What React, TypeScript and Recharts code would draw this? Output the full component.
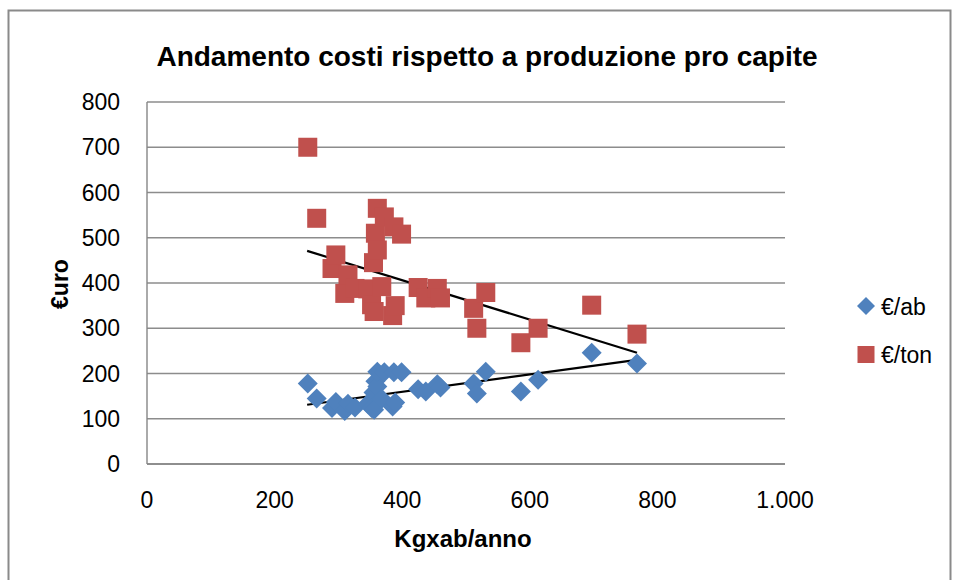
import React from 'react';
import { ScatterChart, Scatter, XAxis, YAxis, CartesianGrid, ReferenceLine } from 'recharts';

// Produzione pro capite (Kg per abitante per anno)
const kgPerInhabitant = [252, 266, 290, 296, 310, 315, 326, 346, 352, 355, 356, 358, 361, 361, 368, 372, 385, 387, 389, 399, 425, 437, 455, 460, 512, 517, 531, 586, 613, 697, 768];
// Costo per abitante (€/ab)
const eurPerInhabitant = [178, 145, 124, 137, 117, 133, 125, 133, 124, 158, 120, 183, 171, 204, 144, 203, 127, 203, 136, 203, 165, 160, 176, 169, 178, 156, 204, 160, 186, 246, 222];
// Costo per tonnellata (€/ton)
const eurPerTon = [700, 543, 432, 462, 377, 418, 388, 387, 352, 445, 337, 510, 473, 565, 392, 546, 328, 524, 350, 508, 390, 367, 388, 367, 344, 300, 379, 268, 300, 351, 287];

const xTicks = [0, 200, 400, 600, 800, 1000];
const yTicks = [0, 100, 200, 300, 400, 500, 600, 700, 800];

// Linee di tendenza (estremi)
const trendX = [251, 768];
const trendAb = [131, 230];
const trendTon = [471, 246];

const abData = kgPerInhabitant.map((x, i) => ({ x, y: eurPerInhabitant[i] }));
const tonData = kgPerInhabitant.map((x, i) => ({ x, y: eurPerTon[i] }));

const BLUE = '#4F81BD';
const RED = '#C0504D';
const FONT = '"Liberation Sans", Arial, sans-serif';

const Diamond = (p: any) => {
  const { cx, cy } = p;
  const r = 10;
  return <polygon points={`${cx},${cy - r} ${cx + r},${cy} ${cx},${cy + r} ${cx - r},${cy}`} fill={BLUE} />;
};

const Square = (p: any) => {
  const { cx, cy } = p;
  return <rect x={cx - 9.5} y={cy - 9.5} width={19} height={19} fill={RED} />;
};

export default function App() {
  return (
    <div style={{ position: 'absolute', left: 0, top: 0, width: 954, height: 580, overflow: 'hidden', background: '#fff', fontFamily: FONT }}>
      <ScatterChart width={954} height={580} margin={{ top: 102, right: 169, bottom: 0, left: 0 }}>
        <CartesianGrid vertical={false} stroke="#8c8c8c" strokeWidth={1.4} />
        <XAxis
          type="number"
          dataKey="x"
          domain={[0, 1000]}
          ticks={xTicks}
          tickFormatter={(v: number) => (v === 1000 ? '1.000' : String(v))}
          height={116}
          axisLine={{ stroke: '#868686', strokeWidth: 1.4 }}
          tickLine={false}
          tickMargin={22}
          tick={{ fill: '#000', fontSize: 23, fontFamily: FONT }}
          interval={0}
        />
        <YAxis
          type="number"
          dataKey="y"
          domain={[0, 800]}
          ticks={yTicks}
          width={147}
          axisLine={{ stroke: '#868686', strokeWidth: 1.4 }}
          tickLine={false}
          tickMargin={21}
          tick={{ fill: '#000', fontSize: 23, fontFamily: FONT }}
          interval={0}
        />
        <Scatter name="€/ab" data={abData} shape={Diamond} isAnimationActive={false} />
        <Scatter name="€/ton" data={tonData} shape={Square} isAnimationActive={false} />
        <ReferenceLine
          segment={[{ x: trendX[0], y: trendTon[0] }, { x: trendX[1], y: trendTon[1] }]}
          stroke="#000"
          strokeWidth={2.2}
        />
        <ReferenceLine
          segment={[{ x: trendX[0], y: trendAb[0] }, { x: trendX[1], y: trendAb[1] }]}
          stroke="#000"
          strokeWidth={2.2}
        />
      </ScatterChart>
      <svg width={954} height={580} style={{ position: 'absolute', left: 0, top: 0, pointerEvents: 'none' }}>
        <rect x={8.5} y={10.5} width={942} height={600} fill="none" stroke="#8a8a8a" strokeWidth={2} />
        <text x={487} y={66} textAnchor="middle" fontFamily={FONT} fontWeight="bold" fontSize={28} fill="#000">
          Andamento costi rispetto a produzione pro capite
        </text>
        <text x={463} y={547} textAnchor="middle" fontFamily={FONT} fontWeight="bold" fontSize={24} fill="#000">
          Kgxab/anno
        </text>
        <text x={68} y={284} textAnchor="middle" transform="rotate(-90, 68, 284)" fontFamily={FONT} fontWeight="bold" fontSize={23} fill="#000">
          €uro
        </text>
        <polygon points="866,297 875,306 866,315 857,306" fill={BLUE} />
        <text x={881} y={315} fontFamily={FONT} fontSize={23} fill="#000">€/ab</text>
        <rect x={857.5} y={346} width={17} height={17} fill={RED} />
        <text x={881} y={363} fontFamily={FONT} fontSize={23} fill="#000">€/ton</text>
      </svg>
    </div>
  );
}
